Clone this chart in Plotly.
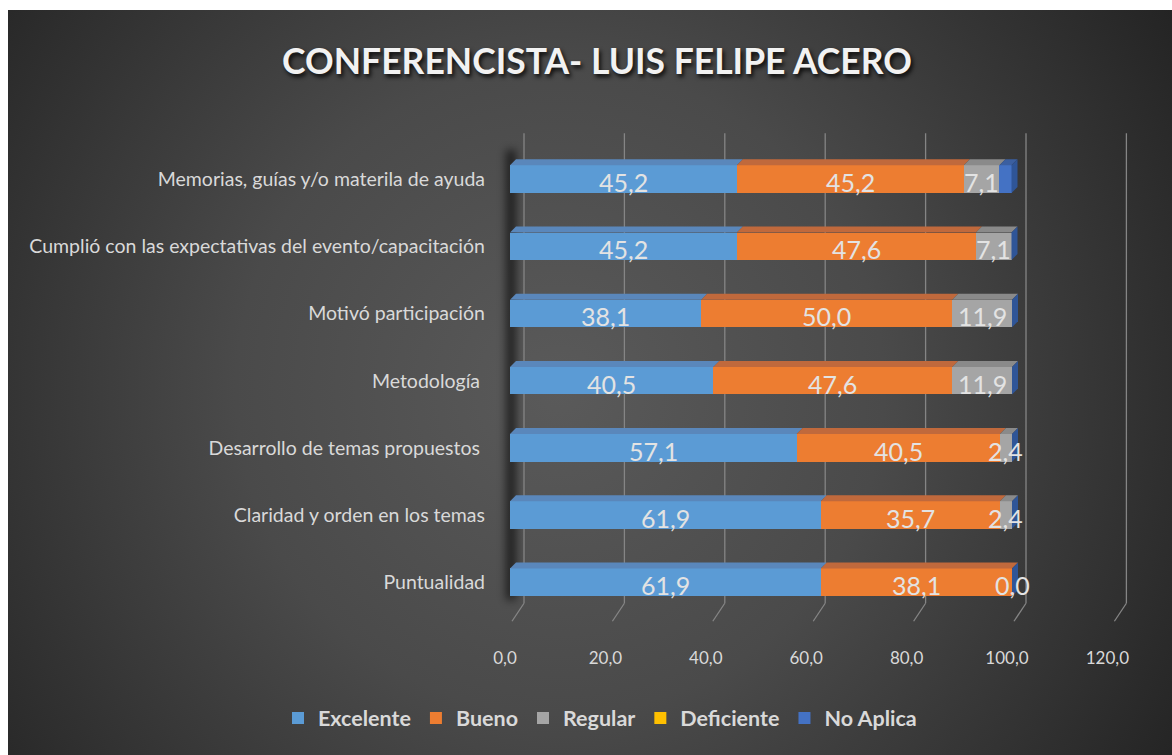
import base64
import plotly.graph_objects as go

# ---------------- data ----------------
categories = [
    "Puntualidad",
    "Claridad y orden en los temas",
    "Desarrollo de temas propuestos ",
    "Metodología ",
    "Motivó participación",
    "Cumplió con las expectativas del evento/capacitación",
    "Memorias, guías y/o materila de ayuda",
]
excelente = [61.9, 61.9, 57.1, 40.5, 38.1, 45.2, 45.2]
bueno = [38.1, 35.7, 40.5, 47.6, 50.0, 47.6, 45.2]
regular = [0.0, 2.4, 2.4, 11.9, 11.9, 7.1, 7.1]
deficiente = [0.0, 0.0, 0.0, 0.0, 0.0, 0.0, 0.0]
no_aplica = [0.0, 0.0, 0.0, 0.0, 0.0, 0.0, 2.4]
series_names = ["Excelente", "Bueno", "Regular", "Deficiente", "No Aplica"]
x_ticks = [0, 20, 40, 60, 80, 100, 120]
x_tick_labels = ["0,0", "20,0", "40,0", "60,0", "80,0", "100,0", "120,0"]
title_text = "CONFERENCISTA- LUIS FELIPE ACERO"

# ---------------- styling ----------------
W_FIG, H_FIG = 1172, 755
ML, MR, MT, MB = 490, 22, 122, 119
X_RANGE = [-3.984, 127.49]
Y_RANGE = [-0.8, 6.85]
PW = W_FIG - ML - MR
PH = H_FIG - MT - MB
PXX = PW / (X_RANGE[1] - X_RANGE[0])   # px per x unit
PXY = PH / (Y_RANGE[1] - Y_RANGE[0])   # px per y unit
BAR_W = 0.41
DEPTH = 6  # px of 3D depth

FONT = "Lato, sans-serif"
TXT = "#d9d9d9"

front_cols = ["#5B9BD5", "#ED7D31", "#A5A5A5", "#FFC000", "#4472C4"]
top_cols = ["#5a87bb", "#c0693c", "#8a8a8a", "#c9a02a", "#3b5fa0"]
side_col = "#2f5597"
show_labels = [True, True, True, False, False]
all_series = [excelente, bueno, regular, deficiente, no_aplica]

fig = go.Figure()
ypos = list(range(len(categories)))
for name, vals, col in zip(series_names, all_series, front_cols):
    fig.add_trace(go.Bar(
        name=name, y=ypos, x=vals, orientation="h", width=BAR_W,
        marker=dict(color=col, line=dict(width=0)),
        hoverinfo="x+name",
    ))

shapes = []
annotations = []
dx = DEPTH / PXX
dy = DEPTH / PXY

# gridlines on back wall + floor diagonals
wall_off = 14 / PXX
wall_top = (582 - 133) / PXY
wall_bot = -(603 - 582) / PXY
floor_y = -(621 - 582) / PXY
floor_dx = 12 / PXX
for t in x_ticks:
    xb = t + wall_off
    shapes.append(dict(type="line", xref="x", yref="y", x0=xb, x1=xb, y0=wall_bot, y1=wall_top,
                       line=dict(color="#858585", width=1.3), layer="below"))
    shapes.append(dict(type="line", xref="x", yref="y", x0=xb, x1=xb - floor_dx, y0=wall_bot, y1=floor_y,
                       line=dict(color="#858585", width=1.3), layer="below"))

# 3D faces and data labels
for i in ypos:
    start = 0.0
    top = i + BAR_W / 2
    bot = i - BAR_W / 2
    for s, vals in enumerate(all_series):
        v = vals[i]
        if v > 0:
            x0, x1 = start, start + v
            path = f"M{x0},{top} L{x1},{top} L{x1+dx},{top+dy} L{x0+dx},{top+dy} Z"
            shapes.append(dict(type="path", xref="x", yref="y", path=path,
                               fillcolor=top_cols[s], line=dict(width=0), layer="above"))
        if show_labels[s]:
            annotations.append(dict(
                x=start + v / 2, y=i, xref="x", yref="y", showarrow=False,
                text=f"{v:.1f}".replace(".", ","), yshift=-3,
                font=dict(family=FONT, size=25, color="#e3e3e3"),
            ))
        start += v
    path = f"M{start},{bot} L{start+dx},{bot+dy} L{start+dx},{top+dy} L{start},{top} Z"
    shapes.append(dict(type="path", xref="x", yref="y", path=path,
                       fillcolor=side_col, line=dict(width=0), layer="above"))

# background (radial gradient + left wall shadow) as an SVG image
svg = f'''<svg xmlns="http://www.w3.org/2000/svg" width="{W_FIG}" height="{H_FIG}" viewBox="0 0 {W_FIG} {H_FIG}" preserveAspectRatio="none">
<defs>
<radialGradient id="g" gradientUnits="userSpaceOnUse" cx="560" cy="390" r="720">
<stop offset="0" stop-color="#5a5a5a"/><stop offset="0.45" stop-color="#4a4a4a"/><stop offset="1" stop-color="#242424"/>
</radialGradient>
<filter id="b" x="-3" y="-0.2" width="7" height="1.4"><feGaussianBlur stdDeviation="4"/></filter>
</defs>
<rect width="{W_FIG}" height="{H_FIG}" fill="#ffffff"/>
<rect x="8" y="10" width="{W_FIG-8}" height="{H_FIG-10}" fill="url(#g)"/>
<rect x="506" y="150" width="10" height="450" fill="#000" opacity="0.6" filter="url(#b)"/>
</svg>'''
src = "data:image/svg+xml;base64," + base64.b64encode(svg.encode("utf-8")).decode("ascii")
images = [dict(source=src, xref="paper", yref="paper",
               x=(0 - ML) / PW, y=(H_FIG - MB) / PH, sizex=W_FIG / PW, sizey=H_FIG / PH,
               xanchor="left", yanchor="top", sizing="stretch", layer="below")]

legend_y = -(718 - (H_FIG - MB)) / PH
legend_x = (600 - ML) / PW

fig.update_layout(
    width=W_FIG, height=H_FIG,
    margin=dict(l=ML, r=MR, t=MT, b=MB, pad=0, autoexpand=False),
    barmode="stack",
    paper_bgcolor="#ffffff", plot_bgcolor="rgba(0,0,0,0)",
    images=images, shapes=shapes, annotations=annotations,
    title=dict(text=title_text, x=597 / W_FIG, xref="container", xanchor="center",
               y=1 - 62 / H_FIG, yref="container", yanchor="middle",
               font=dict(family=FONT, size=35.5, color="#f2f2f2", weight="bold",
                         shadow="2px 3px 4px rgba(0,0,0,0.85)")),
    xaxis=dict(range=X_RANGE, tickvals=x_ticks, ticktext=x_tick_labels, showgrid=False,
               zeroline=False, showline=False, ticks="", ticklabelstandoff=10, ticklabelshift=-5,
               automargin=False,
               tickfont=dict(family=FONT, size=17, color=TXT), fixedrange=True),
    yaxis=dict(range=Y_RANGE, tickvals=ypos, ticktext=categories, showgrid=False,
               zeroline=False, showline=False, ticks="", ticklabelstandoff=4,
               automargin=False,
               tickfont=dict(family=FONT, size=19.5, color=TXT), fixedrange=True),
    legend=dict(orientation="h", x=legend_x, xanchor="center", y=legend_y, yanchor="middle",
                font=dict(family=FONT, size=21.5, color=TXT, weight="bold"),
                bgcolor="rgba(0,0,0,0)", traceorder="normal"),
    showlegend=True,
)

fig.write_html("out.html")
